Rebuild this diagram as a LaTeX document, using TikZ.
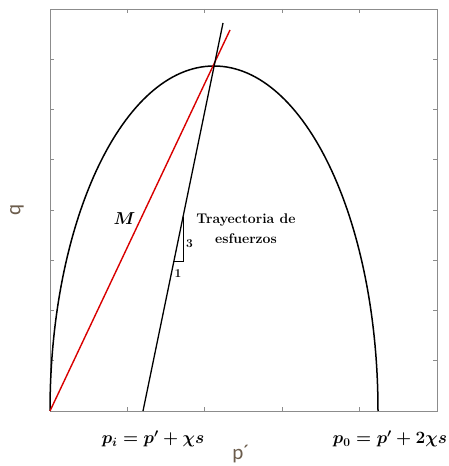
\documentclass[tikz,border=0pt]{standalone}
\usepackage{fontspec}
\newfontfamily\axfont{Carlito}
\usepackage{amsmath}
\definecolor{axlabc}{rgb}{0.42,0.36,0.30}
\begin{document}
\begin{tikzpicture}[x=1pt,y=1pt,
  axisline/.style={draw=black!45, line width=0.9pt},
  tickmark/.style={draw=black!45, line width=0.8pt},
  curve/.style={draw=black, line width=1.5pt},
  mline/.style={draw=red!85!black, line width=1.4pt},
  pathline/.style={draw=black, line width=1.3pt},
  lab/.style={inner sep=0pt, font=\fontsize{16.5}{20}\selectfont\boldmath},
  txt/.style={inner sep=0pt, align=center, font=\fontsize{14}{20}\selectfont\bfseries},
  num/.style={inner sep=0pt, font=\fontsize{12}{14}\selectfont\bfseries},
  axlab/.style={inner sep=0pt, text=axlabc, font=\axfont\fontsize{21}{24}\selectfont}
]
\useasboundingbox (0,0) rectangle (448,466);
% axes box
\coordinate (bl) at (50,55);
\coordinate (tr) at (437,457);
\draw[axisline] (bl) rectangle (tr);
% ticks (inward)
\foreach \i in {1,...,4}{
  \draw[tickmark] (50+77.4*\i,55) -- ++(0,4);
  \draw[tickmark] (50+77.4*\i,457) -- ++(0,-4);
}
\foreach \j in {1,...,7}{
  \draw[tickmark] (50,55+50.25*\j) -- ++(4,0);
  \draw[tickmark] (437,55+50.25*\j) -- ++(-4,0);
}
% yield ellipse
\coordinate (o) at (50,55);
\coordinate (p0) at (378,55);
\draw[curve] (o) arc[start angle=180, end angle=0, x radius=164pt, y radius=345pt];
% M line
\coordinate (mtop) at (230,436);
\draw[mline] (o) -- (mtop);
% stress path
\coordinate (pi) at (143,55);
\coordinate (stop) at (223,443);
\draw[pathline] (pi) -- (stop);
% slope triangle
\coordinate (ta) at (173.9,205);
\coordinate (tb) at (183,205);
\coordinate (tc) at (183,249);
\draw[black, line width=0.7pt] (ta) -- (tb) -- (tc);
\node[num] (three) at (189.5,222) {3};
\node[num] (one) at (178,192) {1};
% labels
\node[txt] (tray) at (246,237) {Trayectoria de\\esfuerzos};
\node[inner sep=0pt, font=\fontsize{17}{20}\selectfont\boldmath] (mlab) at (124.5,247) {$M$};
\node[axlab, rotate=90] (qlab) at (17,256) {q};
\node[axlab] (plab) at (241,12) {p´};
\node[lab] (pilab) at (153,27) {$p_i = p' + \chi s$};
\node[lab] (p0lab) at (390,27) {$p_0 = p' + 2\chi s$};
\end{tikzpicture}
\end{document}
